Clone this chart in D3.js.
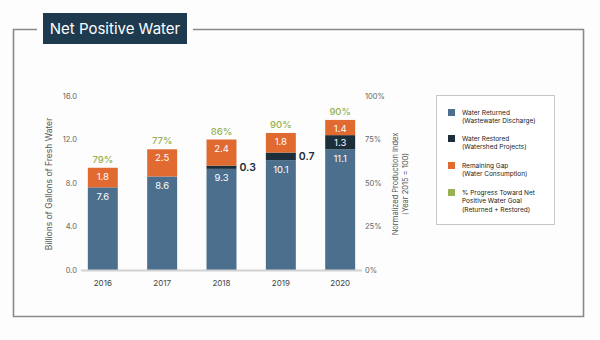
<!DOCTYPE html>
<html>
<head>
<meta charset="utf-8">
<script src="https://cdn.jsdelivr.net/npm/d3@7"></script>
<style>
  body { margin: 0; background: #fcfdfc; }
  svg { display: block; font-family: Inter, "Open Sans", sans-serif; }
</style>
</head>
<body>
<div id="chart"></div>
<script>
var years = ["2016", "2017", "2018", "2019", "2020"]
var returned = [7.6, 8.6, 9.3, 10.1, 11.1]
var restored = [0, 0, 0.3, 0.7, 1.3]
var gap = [1.8, 2.5, 2.4, 1.8, 1.4]
var progress = ["79%", "77%", "86%", "90%", "90%"]
var leftTicks = [0, 4, 8, 12, 16]
var rightTicks = [0, 0.25, 0.5, 0.75, 1]

var legendItems = [
    { color: "#4b6f8d", lines: ["Water Returned", "(Wastewater Discharge)"] },
    { color: "#1b2e3a", lines: ["Water Restored", "(Watershed Projects)"] },
    { color: "#e16a31", lines: ["Remaining Gap", "(Water Consumption)"] },
    { color: "#98b152", lines: ["% Progress Toward Net", "Positive Water Goal", "(Returned + Restored)"] }
]

function draw_chart() {
    var width = 600, height = 340
    var svg = d3.select("#chart").append("svg")
        .attr("width", width)
        .attr("height", height)

    svg.append("rect").attr("width", width).attr("height", height).attr("fill", "#fcfdfc")

    // frame
    var frame = "#8a8a8a"
    svg.append("path")
        .attr("d", "M37,29.5H13.5V316.5H583.5V29.5H193")
        .attr("fill", "none").attr("stroke", frame).attr("stroke-width", 1.6)

    svg.append("rect").attr("x", 43).attr("y", 13).attr("width", 144).attr("height", 31).attr("fill", "#1d3a4f")
    svg.append("text").attr("x", 115).attr("y", 34).attr("text-anchor", "middle")
        .attr("fill", "#fff").attr("font-size", 15).text("Net Positive Water")

    var x = d3.scaleBand().domain(years).range([73, 370]).paddingInner(0.495).paddingOuter(0.25)
    var y = d3.scaleLinear().domain([0, 16]).range([270, 96])
    var y2 = d3.scaleLinear().domain([0, 1]).range([270, 96])

    // left ticks
    svg.append("g").selectAll("text").data(leftTicks).enter().append("text")
        .attr("x", 77).attr("y", function (d) { return y(d) + 2.5 })
        .attr("text-anchor", "end").attr("font-size", 7.5).attr("fill", "#666")
        .text(function (d) { return d.toFixed(1) })

    svg.append("g").selectAll("text").data(rightTicks).enter().append("text")
        .attr("x", 365).attr("y", function (d) { return y2(d) + 2.5 })
        .attr("font-size", 7.5).attr("fill", "#666")
        .text(d3.format(".0%"))

    svg.append("text")
        .attr("transform", "translate(52,184) rotate(-90)")
        .attr("text-anchor", "middle").attr("font-size", 8.5).attr("fill", "#555")
        .text("Billions of Gallons of Fresh Water")

    var rt = svg.append("text")
        .attr("transform", "translate(398,184) rotate(-90)")
        .attr("text-anchor", "middle").attr("font-size", 7.5).attr("fill", "#555")
    rt.append("tspan").attr("x", 0).attr("dy", 0).text("Normalized Production Index")
    rt.append("tspan").attr("x", 0).attr("dy", 10).text("(Year 2015 = 100)")

    var bw = x.bandwidth()
    var bars = svg.append("g").selectAll("g").data(years).enter().append("g")

    bars.append("rect")
        .attr("x", function (d) { return x(d) })
        .attr("y", function (d, i) { return y(returned[i]) })
        .attr("width", bw)
        .attr("height", function (d, i) { return y(0) - y(returned[i]) })
        .attr("fill", legendItems[0].color)

    bars.append("rect")
        .attr("x", function (d) { return x(d) })
        .attr("y", function (d, i) { return y(returned[i] + restored[i]) })
        .attr("width", bw)
        .attr("height", function (d, i) { return y(returned[i]) - y(returned[i] + restored[i]) })
        .attr("fill", legendItems[1].color)

    bars.append("rect")
        .attr("x", function (d) { return x(d) })
        .attr("y", function (d, i) { return y(returned[i] + restored[i] + gap[i]) })
        .attr("width", bw)
        .attr("height", function (d, i) { return y(returned[i] + restored[i]) - y(returned[i] + restored[i] + gap[i]) })
        .attr("fill", legendItems[2].color)

    // value labels
    bars.append("text")
        .attr("x", function (d) { return x(d) + bw / 2 })
        .attr("y", function (d, i) { return y(returned[i]) + 12.5 })
        .attr("text-anchor", "middle").attr("font-size", 9.5).attr("fill", "#fff")
        .text(function (d, i) { return returned[i].toFixed(1) })

    bars.append("text")
        .attr("x", function (d) { return x(d) + bw / 2 })
        .attr("y", function (d, i) { return y(returned[i] + restored[i] + gap[i]) + 12 })
        .attr("text-anchor", "middle").attr("font-size", 9.5).attr("fill", "#fff")
        .text(function (d, i) { return gap[i].toFixed(1) })

    bars.filter(function (d, i) { return restored[i] > 0 }).append("text")
        .attr("x", function (d) { var i = years.indexOf(d); return restored[i] < 1 ? x(d) + bw + 3 : x(d) + bw / 2 })
        .attr("y", function (d) { var i = years.indexOf(d); return y(returned[i] + restored[i] / 2) + 3.5 })
        .attr("text-anchor", function (d) { return restored[years.indexOf(d)] < 1 ? "start" : "middle" })
        .attr("font-size", function (d) { return restored[years.indexOf(d)] < 1 ? 10.5 : 9.5 })
        .attr("font-weight", function (d) { return restored[years.indexOf(d)] < 1 ? 600 : 400 })
        .attr("fill", function (d) { return restored[years.indexOf(d)] < 1 ? "#1b2e3a" : "#fff" })
        .text(function (d) { return restored[years.indexOf(d)].toFixed(1) })

    bars.append("text")
        .attr("x", function (d) { return x(d) + bw / 2 })
        .attr("y", function (d, i) { return y(returned[i] + restored[i] + gap[i]) - 5 })
        .attr("text-anchor", "middle").attr("font-size", 9.5).attr("font-weight", 500)
        .attr("fill", legendItems[3].color)
        .text(function (d, i) { return progress[i] })

    // x axis
    svg.append("line").attr("x1", 81).attr("x2", 362).attr("y1", 270.5).attr("y2", 270.5)
        .attr("stroke", "#d2d2d2").attr("stroke-width", 2)
    svg.append("g").selectAll("text").data(years).enter().append("text")
        .attr("x", function (d) { return x(d) + bw / 2 })
        .attr("y", 286).attr("text-anchor", "middle").attr("font-size", 8).attr("fill", "#444")
        .text(function (d) { return d })

    // legend
    svg.append("rect").attr("x", 436.5).attr("y", 95.5).attr("width", 118).attr("height", 129)
        .attr("fill", "#fff").attr("stroke", "#c8c8c8")
    var ly = [114, 140, 167, 194]
    var lg = svg.append("g").selectAll("g").data(legendItems).enter().append("g")
        .attr("transform", function (d, i) { return "translate(448," + ly[i] + ")" })
    lg.append("rect").attr("x", 0).attr("y", -5).attr("width", 7).attr("height", 7)
        .attr("fill", function (d) { return d.color })
    lg.append("text").attr("font-size", 6.5).attr("fill", "#222")
        .selectAll("tspan").data(function (d) { return d.lines }).enter().append("tspan")
        .attr("x", 14).attr("y", function (d, i) { return i * 8.3 + 1 })
        .text(function (d) { return d })
}

draw_chart()
</script>
</body>
</html>
